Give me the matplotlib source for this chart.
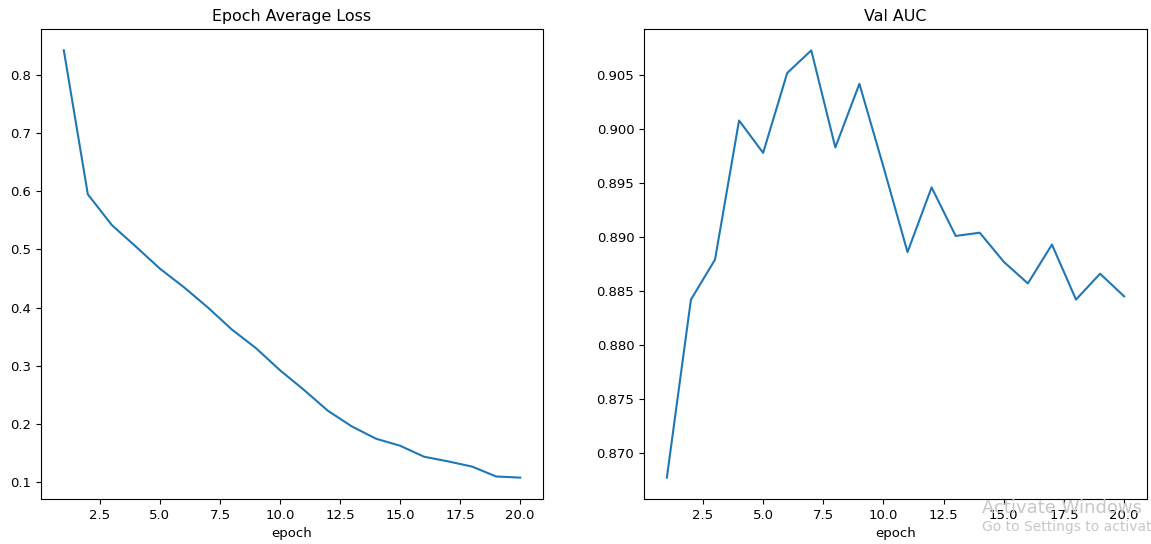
import matplotlib
matplotlib.use("Agg")
import matplotlib.pyplot as plt

epochs = list(range(1, 21))
loss = [0.843, 0.595, 0.542, 0.505, 0.467, 0.435, 0.400, 0.362, 0.330, 0.292,
        0.258, 0.222, 0.195, 0.174, 0.162, 0.143, 0.135, 0.126, 0.109, 0.107]
val_auc = [0.8677, 0.8842, 0.8879, 0.9008, 0.8978, 0.9052, 0.9073, 0.8983, 0.9042, 0.8965,
           0.8886, 0.8946, 0.8901, 0.8904, 0.8877, 0.8857, 0.8893, 0.8842, 0.8866, 0.8845]

plt.rcParams['font.size'] = 9.5
fig = plt.figure(figsize=(11.51, 5.44), dpi=100)
ax1 = fig.add_axes([41/1151, 1-499/544, (543-41)/1151, (499-29)/544])
ax2 = fig.add_axes([644/1151, 1-499/544, (1147-644)/1151, (499-29)/544])

ax1.plot(epochs, loss)
ax1.set_title("Epoch Average Loss")
ax1.set_xlabel("epoch")

ax2.plot(epochs, val_auc)
ax2.set_title("Val AUC")
ax2.set_xlabel("epoch")

fig.text(982/1151, 1-513/544, "Activate Windows", fontsize=13, color="#c8c8c8")
fig.text(982/1151, 1-531/544, "Go to Settings to activate Windows.", fontsize=10, color="#c8c8c8")

fig.savefig("out.png", dpi=100)
